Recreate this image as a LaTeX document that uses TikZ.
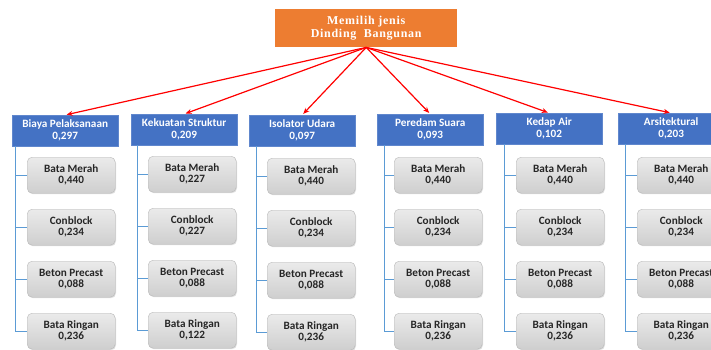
\documentclass[tikz,border=0pt]{standalone}
\usepackage{fontspec}
\setmainfont{Carlito}
\newfontfamily\titlefont[LetterSpace=6]{Liberation Serif}
\usetikzlibrary{arrows.meta,shadows}
\definecolor{hdrorange}{HTML}{ED7D31}
\definecolor{critblue}{HTML}{4472C4}
\definecolor{linkblue}{HTML}{5B9BD5}
\definecolor{alttext}{HTML}{262626}
\begin{document}
\begin{tikzpicture}[x=1pt,y=-1pt,
  goal/.style={fill=hdrorange, minimum width=182pt, minimum height=38pt,
    text=white, font=\titlefont\bfseries\fontsize{12}{13}\selectfont,
    align=center, anchor=north west, inner sep=0pt},
  crit/.style={fill=critblue, draw=critblue!85!white, line width=0.4pt,
    minimum width=106pt, minimum height=31pt, text=white,
    font=\bfseries\fontsize{11.2}{12}\selectfont,
    align=center, anchor=north west, inner sep=0pt},
  alt/.style={rounded corners=5pt, draw=gray!55, line width=0.4pt,
    top color=gray!16, bottom color=gray!38,
    minimum width=88pt, minimum height=36pt, text=alttext,
    font=\bfseries\fontsize{11.2}{11}\selectfont,
    align=center, anchor=north west, inner sep=0pt,
    drop shadow={shadow xshift=0.8pt, shadow yshift=-1pt, opacity=0.25, fill=gray}},
  pick/.style={red, line width=1.2pt, -{Stealth[length=6pt,width=5pt]}, shorten >=1.5pt},
  link/.style={linkblue, line width=0.9pt}
]
\useasboundingbox (0,0) rectangle (711,350);
\clip (0,0) rectangle (711,350);
\fill[white] (0,0) rectangle (711,350);

% goal
\node[goal] (goal) at (275,9) {Memilih jenis\\Dinding\ \ Bangunan};

% criteria columns with their alternatives
\foreach \i/\bx/\by/\lx/\gx/\gdy/\crit/\w/\va/\vb/\vc/\vd in {
  1/12/115/15/27/0/{Biaya Pelaksanaan}/{0,297}/{0,440}/{0,234}/{0,088}/{0,236},
  2/131/114/137/148/-1/{Kekuatan Struktur}/{0,209}/{0,227}/{0,227}/{0,088}/{0,122},
  3/249/115/256/267/1/{Isolator Udara}/{0,097}/{0,440}/{0,234}/{0,088}/{0,236},
  4/377/114/384/394/0/{Peredam Suara}/{0,093}/{0,440}/{0,234}/{0,088}/{0,236},
  5/496/113/504/516/0/{Kedap Air}/{0,102}/{0,440}/{0,234}/{0,088}/{0,236},
  6/618/113/625/637/0/{Arsitektural}/{0,203}/{0,440}/{0,234}/{0,088}/{0,236}}
{
  \node[crit] (b\i) at (\bx,\by) {\crit\\\w};
  \path (b\i.south west) ++({\lx-\bx},0) coordinate (t\i);
  \node[alt] (g\i a) at (\gx,{157+\gdy}) {Bata Merah\\\va};
  \node[alt] (g\i b) at (\gx,{209+\gdy}) {Conblock\\\vb};
  \node[alt] (g\i c) at (\gx,{261+\gdy}) {Beton Precast\\\vc};
  \node[alt] (g\i d) at (\gx,{313+\gdy}) {Bata Ringan\\\vd};
  \foreach \k in {a,b,c,d} {
    \draw[link] (t\i) |- (g\i\k.west);
  }
  \draw[pick] (goal.south) -- (b\i.north);
}
\end{tikzpicture}
\end{document}
